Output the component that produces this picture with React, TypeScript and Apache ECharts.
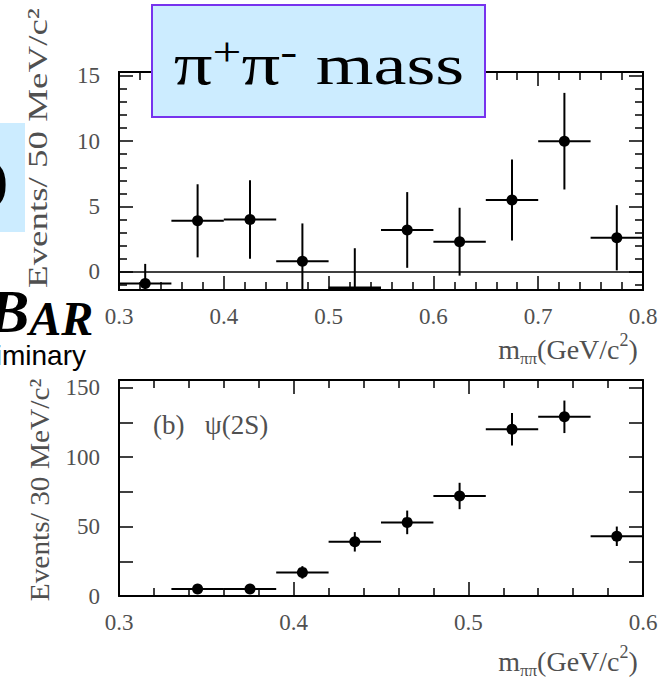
import React, { useEffect, useRef } from 'react';
import * as echarts from 'echarts';

// ---- data ----
const topBinCenters = [0.325, 0.375, 0.425, 0.475, 0.525, 0.575, 0.625, 0.675, 0.725, 0.775];
const topEvents = [-0.9, 3.9, 4.0, 0.8, -1.5, 3.2, 2.3, 5.5, 10.0, 2.6];
const topErrors = [1.5, 2.8, 3.0, 2.9, 3.3, 2.9, 2.6, 3.1, 3.7, 2.5];
const topBinHalfWidth = 0.025;

const bottomBinCenters = [0.345, 0.375, 0.405, 0.435, 0.465, 0.495, 0.525, 0.555, 0.585];
const bottomEvents = [5, 5, 17, 39, 53, 72, 120, 129, 43];
const bottomErrors = [2.5, 2.5, 4.5, 7, 8.5, 9.5, 11.7, 11.7, 7];
const bottomBinHalfWidth = 0.015;

const topYLabels = [0, 5, 10, 15];
const topYMinorTicks = [-1, 1, 2, 3, 4, 6, 7, 8, 9, 11, 12, 13, 14];
const bottomYTicks = [0, 25, 50, 75, 100, 125, 150];
const bottomYLabels = [0, 50, 100, 150];

const FONT = 'Liberation Serif';
const LABEL_COLOR = '#505050';
const BOX_FILL = '#CCECFF';
const BOX_STROKE = '#7733EE';

const axisLine = { show: true, onZero: false, lineStyle: { color: '#000', width: 2 } };
const tickStyle = { color: '#000', width: 1.5 };

function xAxisDef(gridIndex: number, position: string, min: number, max: number, showLabel: boolean) {
  return {
    type: 'value',
    gridIndex,
    position,
    min,
    max,
    interval: 0.1,
    axisLine,
    axisTick: { show: true, inside: true, length: 14, lineStyle: tickStyle },
    minorTick: { show: true, splitNumber: 5, length: 8, lineStyle: tickStyle },
    splitLine: { show: false },
    minorSplitLine: { show: false },
    axisLabel: {
      show: showLabel,
      color: LABEL_COLOR,
      fontFamily: FONT,
      fontSize: 23,
      margin: 15,
      formatter: (v: number) => v.toFixed(1),
    },
  };
}

function yAxisDef(
  gridIndex: number,
  position: string,
  min: number,
  max: number,
  ticks: number[],
  tickLen: number,
  labels: number[] | null
) {
  return {
    type: 'value',
    gridIndex,
    position,
    min,
    max,
    axisLine,
    axisTick: { show: true, inside: true, length: tickLen, customValues: ticks, lineStyle: tickStyle },
    axisLabel: labels
      ? { show: true, customValues: labels, color: LABEL_COLOR, fontFamily: FONT, fontSize: 23, margin: 19 }
      : { show: false },
    splitLine: { show: false },
  };
}

function makeRenderItem(halfWidth: number) {
  return (params: any, api: any) => {
    const x = api.value(0);
    const y = api.value(1);
    const e = api.value(2);
    const c = api.coord([x, y]);
    const left = api.coord([x - halfWidth, y])[0];
    const right = api.coord([x + halfWidth, y])[0];
    const cs = params.coordSys;
    const gTop = cs.y;
    const gBottom = cs.y + cs.height;
    const clamp = (v: number) => Math.min(Math.max(v, gTop), gBottom);
    const yTop = clamp(api.coord([x, y + e])[1]);
    const yBot = clamp(api.coord([x, y - e])[1]);
    const inside = c[1] >= gTop && c[1] <= gBottom;
    const yBar = inside ? c[1] : Math.min(Math.max(c[1], gTop + 1), gBottom - 2);
    const stroke = { stroke: '#000', lineWidth: 2 };
    const children: any[] = [
      { type: 'line', shape: { x1: c[0], y1: yTop, x2: c[0], y2: yBot }, style: stroke },
      { type: 'line', shape: { x1: left, y1: yBar, x2: right, y2: yBar }, style: { stroke: '#000', lineWidth: inside ? 2 : 3 } },
    ];
    if (inside) {
      children.push({ type: 'circle', shape: { cx: c[0], cy: c[1], r: 5.5 }, style: { fill: '#000' } });
    }
    return { type: 'group', children };
  };
}

function mTitle(x: number, y: number) {
  return {
    type: 'text',
    x,
    y,
    z: 100,
    style: {
      text: '{m|m}{s|ππ}{n|(GeV/c}{p|2}{n|)}',
      align: 'center',
      verticalAlign: 'middle',
      rich: {
        m: { fontFamily: FONT, fontSize: 28, fill: LABEL_COLOR, lineHeight: 36, verticalAlign: 'middle' },
        n: { fontFamily: FONT, fontSize: 28, fill: LABEL_COLOR, lineHeight: 36, verticalAlign: 'middle' },
        s: { fontFamily: FONT, fontSize: 17, fill: LABEL_COLOR, lineHeight: 17, verticalAlign: 'bottom' },
        p: { fontFamily: FONT, fontSize: 18, fill: LABEL_COLOR, lineHeight: 18, verticalAlign: 'top' },
      },
    },
  };
}

const shadow = { textShadowColor: '#fff', textShadowOffsetX: 2, textShadowOffsetY: 2 };

export default function App() {
  const ref = useRef<HTMLDivElement>(null);
  useEffect(() => {
    document.body.style.margin = '0';
    if (!ref.current) return;
    const chart = echarts.init(ref.current, null, { renderer: 'svg' });
    const option: any = {
      animation: false,
      backgroundColor: '#fff',
      grid: [
        { left: 119, top: 72, width: 524, height: 218 },
        { left: 119, top: 380, width: 524, height: 216 },
      ],
      xAxis: [
        xAxisDef(0, 'bottom', 0.3, 0.8, true),
        xAxisDef(0, 'top', 0.3, 0.8, false),
        xAxisDef(1, 'bottom', 0.3, 0.6, true),
        xAxisDef(1, 'top', 0.3, 0.6, false),
      ],
      yAxis: [
        yAxisDef(0, 'left', -1.4, 15.3, topYLabels, 14, topYLabels),
        yAxisDef(0, 'left', -1.4, 15.3, topYMinorTicks, 8, null),
        yAxisDef(0, 'right', -1.4, 15.3, topYLabels, 14, null),
        yAxisDef(0, 'right', -1.4, 15.3, topYMinorTicks, 8, null),
        yAxisDef(1, 'left', 0, 155.5, bottomYTicks, 14, bottomYLabels),
        yAxisDef(1, 'right', 0, 155.5, bottomYTicks, 14, null),
      ],
      series: [
        {
          type: 'custom',
          xAxisIndex: 0,
          yAxisIndex: 0,
          clip: true,
          encode: { x: 0, y: 1 },
          data: topBinCenters.map((x, i) => [x, topEvents[i], topErrors[i]]),
          renderItem: makeRenderItem(topBinHalfWidth),
          markLine: {
            silent: true,
            symbol: ['none', 'none'],
            label: { show: false },
            lineStyle: { color: '#000', type: 'solid', width: 1.5 },
            data: [{ yAxis: 0 }],
          },
        },
        {
          type: 'custom',
          xAxisIndex: 2,
          yAxisIndex: 4,
          clip: true,
          encode: { x: 0, y: 1 },
          data: bottomBinCenters.map((x, i) => [x, bottomEvents[i], bottomErrors[i]]),
          renderItem: makeRenderItem(bottomBinHalfWidth),
        },
      ],
      graphic: [
        // partial box on the left edge
        { type: 'rect', z: 100, shape: { x: 0, y: 123, width: 25, height: 109 }, style: { fill: BOX_FILL } },
        {
          type: 'text', z: 101, x: 8, y: 180,
          style: { text: ')', fontFamily: FONT, fontSize: 54, fontWeight: 'bold', fill: '#000', align: 'right', verticalAlign: 'middle' },
        },
        // title box
        {
          type: 'rect', z: 100,
          shape: { x: 152, y: 5, width: 333, height: 112 },
          style: { fill: BOX_FILL, stroke: BOX_STROKE, lineWidth: 2 },
        },
        {
          type: 'text', z: 101, x: 319, y: 64, scaleX: 1.28,
          style: {
            text: '{p|π}{sp|+}{p|π}{sm|-}{t| mass}',
            align: 'center',
            verticalAlign: 'middle',
            rich: {
              p: { fontFamily: FONT, fontSize: 60, fill: '#000', lineHeight: 64, verticalAlign: 'middle', ...shadow },
              t: { fontFamily: FONT, fontSize: 58, fill: '#000', lineHeight: 64, verticalAlign: 'middle', ...shadow },
              sp: { fontFamily: FONT, fontSize: 40, fill: '#000', lineHeight: 40, verticalAlign: 'top', ...shadow },
              sm: { fontFamily: FONT, fontSize: 40, fill: '#000', lineHeight: 40, verticalAlign: 'top', ...shadow },
            },
          },
        },
        // BaBar logo fragment and "Preliminary"
        {
          type: 'text', z: 101, x: -12, y: 316,
          style: {
            text: '{b|B}{a|AR}',
            align: 'left',
            verticalAlign: 'middle',
            rich: {
              b: { fontFamily: FONT, fontSize: 62, fontWeight: 'bold', fontStyle: 'italic', fill: '#000', lineHeight: 52, verticalAlign: 'bottom' },
              a: { fontFamily: FONT, fontSize: 48, fontWeight: 'bold', fontStyle: 'italic', fill: '#000', lineHeight: 42, verticalAlign: 'bottom' },
            },
          },
        },
        {
          type: 'text', z: 101, x: 86, y: 355,
          style: { text: 'Preliminary', fontFamily: 'Liberation Sans', fontSize: 28, fill: '#000', align: 'right', verticalAlign: 'middle' },
        },
        // axis titles
        {
          type: 'text', z: 100, x: 38, y: 148, rotation: Math.PI / 2, scaleX: 1.32,
          style: { text: 'Events/ 50 MeV/c²', fontFamily: FONT, fontSize: 28, fill: LABEL_COLOR, align: 'center', verticalAlign: 'middle' },
        },
        {
          type: 'text', z: 100, x: 39, y: 490, rotation: Math.PI / 2, scaleX: 1.05,
          style: { text: 'Events/ 30 MeV/c²', fontFamily: FONT, fontSize: 28, fill: LABEL_COLOR, align: 'center', verticalAlign: 'middle' },
        },
        mTitle(568, 349),
        mTitle(568, 661),
        {
          type: 'text', z: 100, x: 153, y: 425,
          style: { text: '(b)   ψ(2S)', fontFamily: FONT, fontSize: 27, fill: LABEL_COLOR, align: 'left', verticalAlign: 'middle' },
        },
      ],
    };
    chart.setOption(option);
    return () => chart.dispose();
  }, []);
  return <div ref={ref} style={{ width: 667, height: 680 }} />;
}
